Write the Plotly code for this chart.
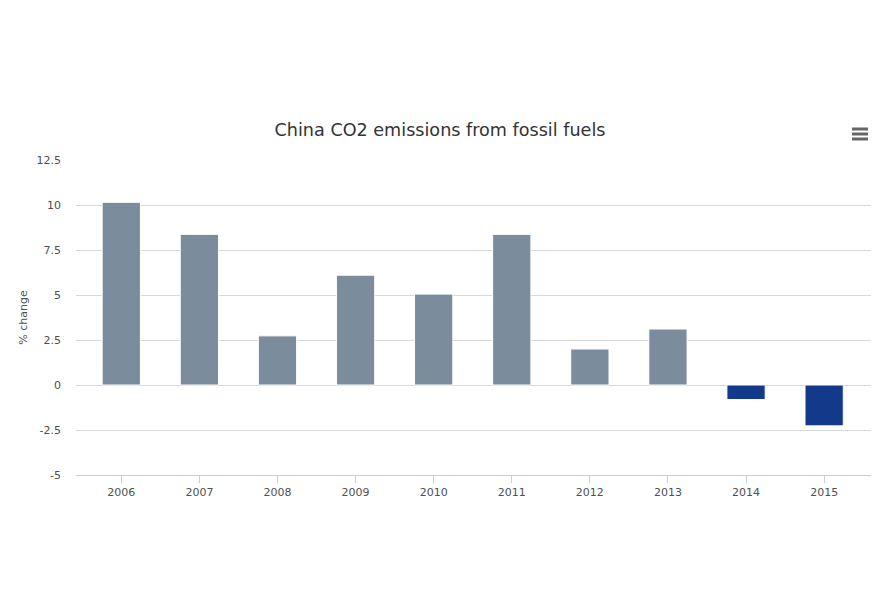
import plotly.graph_objects as go

years = ["2006", "2007", "2008", "2009", "2010", "2011", "2012", "2013", "2014", "2015"]
pct_change = [10.15, 8.37, 2.73, 6.10, 5.05, 8.37, 2.0, 3.11, -0.81, -2.27]
bar_colors = ["#7b8c9d"] * 8 + ["#12398a"] * 2
y_ticks = [-5, -2.5, 0, 2.5, 5, 7.5, 10, 12.5]
y_tick_labels = ["-5", "-2.5", "0", "2.5", "5", "7.5", "10", "12.5"]

# page has an 8px body margin; layout numbers below compensate for it
L, R, T, B = 68, 26, 152, 138
PW, PH = 889 - L - R, 605 - T - B

fig = go.Figure()
fig.add_trace(go.Bar(
    x=list(range(len(years))), y=pct_change,
    marker=dict(color=bar_colors, line=dict(color="white", width=1)),
    width=0.49, hoverinfo="x+y",
))

fig.update_layout(
    width=889, height=605,
    margin=dict(l=L, r=R, t=T, b=B),
    paper_bgcolor="white", plot_bgcolor="white",
    font=dict(family="DejaVu Sans", color="#606060", size=11),
    showlegend=False,
    title=dict(text="China CO2 emissions from fossil fuels", x=432 / 889, xanchor="center",
               y=1 - 122 / 605, yanchor="middle",
               font=dict(family="DejaVu Sans", size=17.6, color="#333333")),
    xaxis=dict(
        tickmode="array", tickvals=list(range(len(years))), ticktext=years,
        range=[-0.58, 9.6], showgrid=False, zeroline=False,
        showline=True, linecolor="#c0d0e0", linewidth=1,
        ticks="outside", ticklen=7, tickcolor="#c0d0e0",
        tickfont=dict(size=11, color="#505050"),
    ),
    yaxis=dict(
        range=[-5, 12.5], tickmode="array", tickvals=y_ticks, ticktext=y_tick_labels,
        showgrid=True, gridcolor="#d8d8d8", gridwidth=1, zeroline=False,
        tickfont=dict(size=11, color="#505050"), ticks="", ticklabelstandoff=14,
        title=dict(text="% change", font=dict(size=11, color="#505050"), standoff=6),
    ),
)

# export menu icon (three horizontal bars)
for ypix in (121, 126, 131):
    fig.add_shape(type="line", xref="paper", yref="paper",
                  x0=(844 - L) / PW, x1=(860 - L) / PW,
                  y0=(605 - B - ypix) / PH, y1=(605 - B - ypix) / PH,
                  line=dict(color="#666666", width=3))

fig.write_html("out.html")
